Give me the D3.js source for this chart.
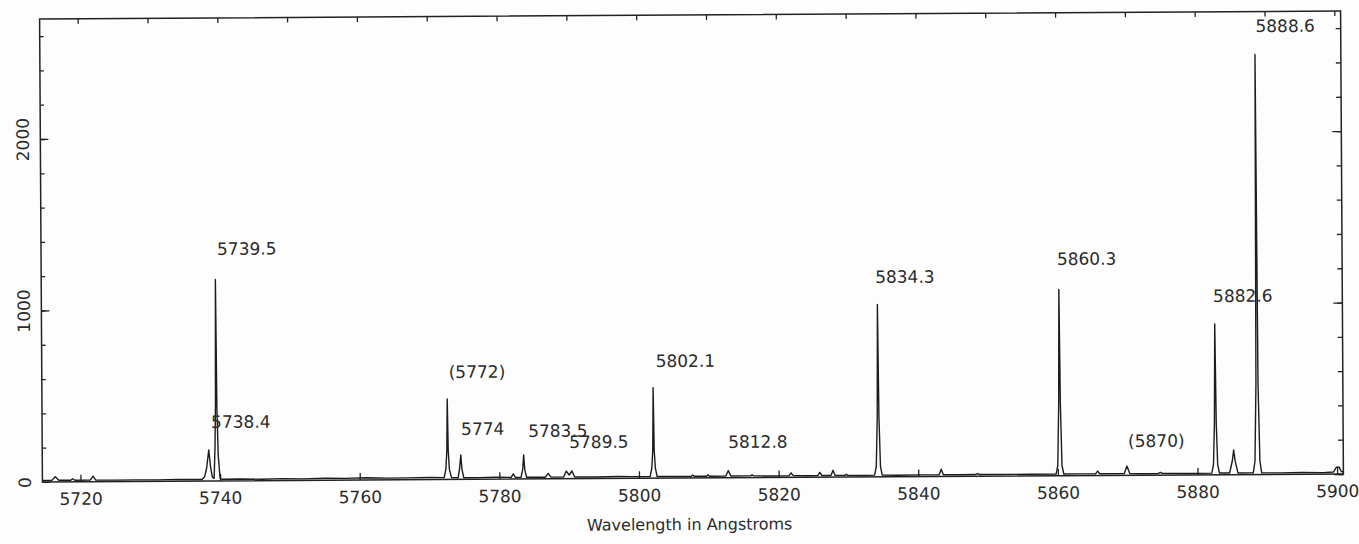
<!DOCTYPE html>
<html>
<head>
<meta charset="utf-8">
<script src="https://cdn.jsdelivr.net/npm/d3@7"></script>
<style>
  html, body { margin: 0; padding: 0; background: #fdfdfd; }
  svg { display: block; }
  text { font-family: "DejaVu Sans", sans-serif; fill: #2b2b2b; }
</style>
</head>
<body>
<svg id="chart" width="1359" height="544"></svg>
<script>
// Emission spectrum: [wavelength (Å), counts]
const spectrum = [
  [5714.6, 9], [5715.9, 9], [5716.4, 30], [5716.9, 9], [5718.6, 9], [5718.9, 18], [5719.2, 9],
  [5721.4, 9], [5721.8, 32], [5722.2, 9], [5725, 8], [5728, 9], [5731, 8], [5734, 10], [5736, 9],
  [5737.4, 9], [5737.8, 25], [5738.1, 80], [5738.4, 181], [5738.65, 80], [5738.9, 22], [5739.15, 15],
  [5739.3, 200], [5739.4, 440], [5739.5, 1175], [5739.6, 440], [5739.75, 150], [5740.0, 15], [5740.35, 9],
  [5743, 10], [5746, 8], [5749, 11], [5752, 9], [5755, 12], [5758, 10], [5761, 13], [5764, 10], [5767, 11], [5770, 12],
  [5772.1, 11], [5772.35, 60], [5772.5, 170], [5772.6, 469], [5772.7, 170], [5772.85, 60], [5773.15, 11],
  [5774.1, 10], [5774.3, 60], [5774.5, 142], [5774.65, 60], [5774.9, 10],
  [5777, 10], [5779.5, 11], [5781.7, 10], [5782.0, 30], [5782.3, 10],
  [5783.1, 10], [5783.35, 55], [5783.5, 140], [5783.65, 55], [5783.9, 10],
  [5786.6, 10], [5787.0, 32], [5787.4, 10],
  [5789.2, 10], [5789.6, 45], [5790.0, 22], [5790.4, 45], [5790.8, 10],
  [5794, 9], [5797, 11], [5799, 10],
  [5801.6, 10], [5801.85, 60], [5802.0, 165], [5802.1, 528], [5802.2, 165], [5802.35, 60], [5802.6, 10],
  [5805, 9], [5807.5, 10], [5807.7, 18], [5807.9, 10], [5809.7, 10], [5809.9, 18], [5810.1, 10],
  [5812.45, 10], [5812.8, 42], [5813.15, 10],
  [5816.0, 10], [5816.2, 16], [5816.4, 10], [5819, 9], [5821.5, 10], [5821.8, 26], [5822.1, 10],
  [5824, 9], [5825.6, 10], [5825.9, 28], [5826.2, 10], [5827.5, 10], [5827.8, 40], [5828.1, 10],
  [5829.5, 10], [5829.7, 16], [5829.9, 10], [5831.5, 9],
  [5833.75, 10], [5834.0, 60], [5834.18, 350], [5834.3, 1006], [5834.42, 350], [5834.6, 60], [5834.85, 10],
  [5837, 9], [5840.5, 10], [5843.0, 10], [5843.3, 42], [5843.6, 10], [5846, 9],
  [5848.2, 10], [5848.5, 16], [5848.8, 10], [5852, 9], [5856, 10],
  [5859.75, 10], [5860.0, 60], [5860.18, 420], [5860.3, 1087], [5860.42, 420], [5860.6, 60], [5860.85, 10],
  [5863, 10], [5865.4, 10], [5865.7, 26], [5866.0, 10], [5869.5, 10], [5869.9, 54], [5870.3, 10],
  [5872, 9], [5874.4, 10], [5874.7, 16], [5875.0, 10], [5878, 9],
  [5882.05, 10], [5882.3, 60], [5882.47, 300], [5882.6, 879], [5882.73, 300], [5882.9, 60], [5883.15, 10],
  [5884.6, 10], [5885.0, 80], [5885.2, 144], [5885.4, 80], [5885.8, 10],
  [5888.0, 10], [5888.25, 80], [5888.45, 530], [5888.6, 2450], [5888.75, 530], [5888.95, 80], [5889.2, 10],
  [5892, 9], [5895, 10], [5898, 9], [5899.5, 12], [5899.9, 40], [5900.3, 40], [5900.6, 15], [5900.9, 12]
];

// Line identifications and where their text starts (wavelength, counts at baseline)
const peakLabels      = ["5739.5", "5738.4", "(5772)", "5774", "5783.5", "5789.5", "5802.1", "5812.8", "5834.3", "5860.3", "(5870)", "5882.6", "5888.6"];
const labelWavelength = [5739.76, 5738.76, 5772.84, 5774.56, 5784.16, 5790.03, 5802.49, 5812.80, 5834.0, 5860.05, 5870.08, 5882.39, 5888.69];
const labelCount      = [1318, 309, 592, 259, 245, 179, 648, 174, 1131, 1229, 165, 1008, 2580];

const xLabelTicks = [5720, 5740, 5760, 5780, 5800, 5820, 5840, 5860, 5880, 5900];
const xMinorTicks = [5720, 5730, 5740, 5750, 5760, 5770, 5780, 5790, 5800, 5810, 5820, 5830, 5840, 5850, 5860, 5870, 5880, 5890, 5900];
const yLabelTicks = [0, 1000, 2000];
const yMinorTicks = [0, 200, 400, 600, 800, 1000, 1200, 1400, 1600, 1800, 2000, 2200, 2400, 2600];
const xTitle = "Wavelength in Angstroms";

const xDomain = [5714.55, 5900.9];
const yDomain = [0, 2700];

const box = { left: 41, right: 1342, top: 15, bottom: 478 };
const ink = "#222";

const svg = d3.select("#chart");
const g = svg.append("g").attr("transform", "rotate(-0.35 691 246)");

const x = d3.scaleLinear().domain(xDomain).range([box.left, box.right]);
const y = d3.scaleLinear().domain(yDomain).range([box.bottom, box.top]);

function styleAxis(sel) {
  sel.select(".domain").remove();
  sel.selectAll(".tick line").attr("stroke", ink).attr("stroke-width", 1.3);
  sel.selectAll(".tick text").style("font-size", "17px").attr("fill", "#2b2b2b");
}

// bottom axis: inward ticks every 20 Å with labels
g.append("g")
  .attr("transform", `translate(0,${box.bottom})`)
  .call(d3.axisBottom(x).tickValues(xLabelTicks).tickSizeInner(-7).tickSizeOuter(0)
        .tickPadding(11).tickFormat(d3.format("d")))
  .call(styleAxis);

// top axis: short inward ticks every 10 Å
g.append("g")
  .attr("transform", `translate(0,${box.top})`)
  .call(d3.axisTop(x).tickValues(xMinorTicks).tickSizeInner(-5).tickSizeOuter(0).tickFormat(""))
  .call(styleAxis);

// left axis: minor and labelled major ticks
g.append("g")
  .attr("transform", `translate(${box.left},0)`)
  .call(d3.axisLeft(y).tickValues(yMinorTicks).tickSizeInner(-4).tickSizeOuter(0).tickFormat(""))
  .call(styleAxis);

const yMajor = g.append("g")
  .attr("transform", `translate(${box.left},0)`)
  .call(d3.axisLeft(y).tickValues(yLabelTicks).tickSizeInner(-8).tickSizeOuter(0).tickFormat(d3.format("d")))
  .call(styleAxis);
yMajor.selectAll(".tick text")
  .attr("x", null).attr("dy", null)
  .attr("text-anchor", "middle")
  .attr("transform", "translate(-11.5,0) rotate(-90)");

// right axis ticks
g.append("g")
  .attr("transform", `translate(${box.right},0)`)
  .call(d3.axisRight(y).tickValues(yMinorTicks).tickSizeInner(-5).tickSizeOuter(0).tickFormat(""))
  .call(styleAxis);
g.append("g")
  .attr("transform", `translate(${box.right},0)`)
  .call(d3.axisRight(y).tickValues(yLabelTicks).tickSizeInner(-9).tickSizeOuter(0).tickFormat(""))
  .call(styleAxis);

// frame
g.append("rect")
  .attr("x", box.left).attr("y", box.top)
  .attr("width", box.right - box.left).attr("height", box.bottom - box.top)
  .attr("fill", "none").attr("stroke", ink).attr("stroke-width", 1.5);

// spectrum trace
const line = d3.line().x(d => x(d[0])).y(d => y(d[1]));
g.append("path")
  .datum(spectrum)
  .attr("d", line)
  .attr("fill", "none")
  .attr("stroke", "#1c1c1c")
  .attr("stroke-width", 1.4)
  .attr("stroke-linejoin", "round");

// line identifications
g.append("g").selectAll("text")
  .data(peakLabels)
  .join("text")
  .attr("x", (d, i) => x(labelWavelength[i]))
  .attr("y", (d, i) => y(labelCount[i]))
  .style("font-size", "17px")
  .text(d => d);

// axis title
g.append("text")
  .attr("x", 688).attr("y", 530)
  .attr("text-anchor", "middle")
  .style("font-size", "16px")
  .text(xTitle);
</script>
</body>
</html>
